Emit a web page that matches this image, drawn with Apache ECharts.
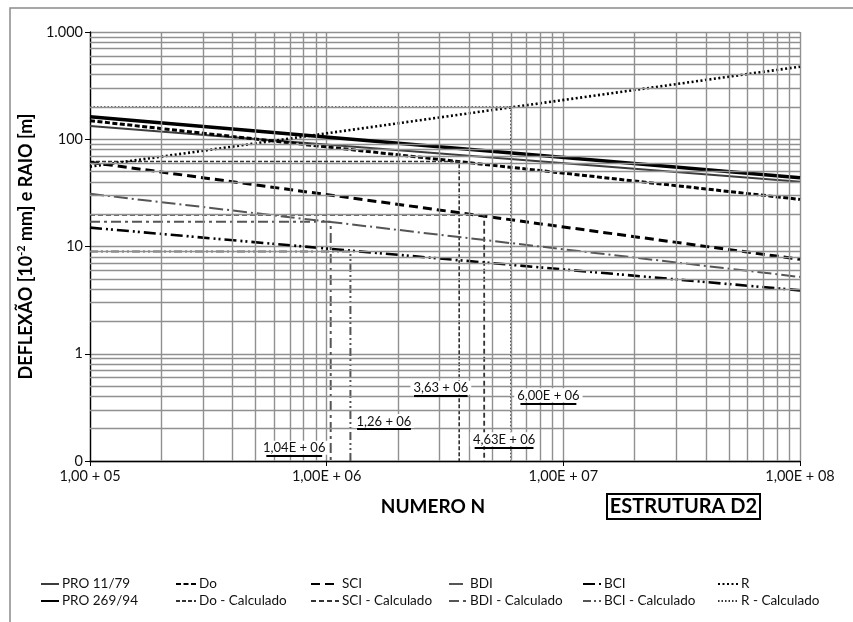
<!DOCTYPE html>
<html><head><meta charset="utf-8">
<script src="https://cdn.jsdelivr.net/npm/echarts@6.0.0/dist/echarts.min.js"></script>
<style>html,body{margin:0;padding:0;background:#fff}#c{width:853px;height:622px}</style>
</head><body><div id="c"></div>
<script>
// ---- data ----
const xEnds = [1e5, 1e8];
const pro1179 = [133, 40.2];
const pro26994 = [162, 43.8];
const doVals = [149, 27.5];
const sciVals = [61, 7.6];
const bdiVals = [31, 5.2];
const bciVals = [15, 3.9];
const rVals = [55.5, 475];
// Calculado: [N, value]
const doCalc = [3.63e6, 62];
const sciCalc = [4.63e6, 19.7];
const bdiCalc = [1.04e6, 17];
const bciCalc = [1.26e6, 9.0];
const rCalc = [6.0e6, 200];
const xTickLabels = ['1,00 + 05', '1,00E + 06', '1,00E + 07', '1,00E + 08'];
const yTickLabels = ['0', '1', '10', '100', '1.000'];
const annTexts = ['1,04E + 06', '1,26 + 06', '3,63 + 06', '4,63E + 06', '6,00E + 06'];

// ---- layout / style ----
const X_MIN = 1e5, X_MAX = 1e8, Y_MIN = 0.1, Y_MAX = 1000;
const FONT = 'Lato, "Open Sans", sans-serif';
const GRID_C = '#909090';
const annPos = [ // [x1, x2, y] underline segments in data space
  [5.56e5, 9.57e5, 0.112],
  [1.344e6, 2.27e6, 0.199],
  [2.34e6, 3.94e6, 0.406],
  [4.22e6, 7.48e6, 0.134],
  [6.59e6, 1.135e7, 0.345]
];

function diag(vals) { return xEnds.map((x, i) => [x, vals[i]]); }
function calc(c) { return [[X_MIN, c[1]], [c[0], c[1]], [c[0], Y_MIN]]; }
function ln(name, data, color, width, type, z) {
  return { name, type: 'line', data, showSymbol: false, symbol: 'none', silent: true, z: z || 3,
    lineStyle: { color, width, type, cap: 'butt' }, itemStyle: { color } };
}

// minor grid lines
const minorGrid = [];
for (let k = 5; k <= 7; k++) for (let m = 2; m <= 9; m++) minorGrid.push({ xAxis: m * Math.pow(10, k) });
for (let k = -1; k <= 2; k++) for (let m = 2; m <= 9; m++) minorGrid.push({ yAxis: +(m * Math.pow(10, k)).toPrecision(3) });

const series = [
  { name: '_grid', type: 'line', data: [[X_MIN, 1]], showSymbol: false, silent: true, z: 1,
    lineStyle: { opacity: 0 },
    markLine: { silent: true, symbol: ['none', 'none'], animation: false, label: { show: false },
      lineStyle: { color: GRID_C, width: 1.4, type: 'solid' }, data: minorGrid } },
  ln('PRO 11/79', diag(pro1179), '#3c3c3c', 2, 'solid'),
  ln('PRO 269/94', diag(pro26994), '#000', 3.5, 'solid', 4),
  ln('Do', diag(doVals), '#000', 3, [5, 2.5]),
  ln('Do - Calculado', calc(doCalc), '#333', 1.6, [4, 2]),
  ln('SCI', diag(sciVals), '#000', 3, [9, 5]),
  ln('SCI - Calculado', calc(sciCalc), '#333', 1.8, [5, 3]),
  ln('BDI', diag(bdiVals), '#555', 2, [14, 4, 2, 4]),
  ln('BDI - Calculado', calc(bdiCalc), '#555', 2, [10, 4, 3, 4]),
  ln('BCI', diag(bciVals), '#000', 2.6, [12, 4, 2, 3, 2, 4]),
  ln('BCI - Calculado', calc(bciCalc), '#555', 2, [8, 3, 2, 3, 2, 3]),
  ln('R', diag(rVals), '#000', 2.6, [2, 2.5]),
  ln('R - Calculado', calc(rCalc), '#333', 1.5, [1.5, 2]),
  { name: '_ann', type: 'line', data: [[X_MIN, 1]], showSymbol: false, silent: true, z: 10,
    lineStyle: { opacity: 0 },
    markLine: { silent: true, symbol: ['none', 'none'], animation: false, z: 10,
      lineStyle: { color: '#000', width: 1.8, type: 'solid' },
      label: { show: true, position: 'insideMiddleTop', distance: 1, color: '#111', fontSize: 13,
        fontFamily: FONT, backgroundColor: '#fff', padding: [1, 3, 0, 3] },
      data: annPos.map((p, i) => [
        { coord: [p[0], p[2]], label: { formatter: annTexts[i] } },
        { coord: [p[1], p[2]] }
      ]) } }
];

const legendCols = [
  ['PRO 11/79', 'PRO 269/94'],
  ['Do', 'Do - Calculado'],
  ['SCI', 'SCI - Calculado'],
  ['BDI', 'BDI - Calculado'],
  ['BCI', 'BCI - Calculado'],
  ['R', 'R - Calculado']
];
const legendLeft = [35, 170, 305, 443, 577, 712];
const legendIconW = [18, 20, 28, 18, 18, 20];

const option = {
  animation: false,
  backgroundColor: '#fff',
  textStyle: { fontFamily: FONT },
  grid: { left: 90, top: 32, width: 710, height: 429, containLabel: false },
  xAxis: {
    type: 'log', logBase: 10, min: X_MIN, max: X_MAX,
    name: 'NUMERO N', nameLocation: 'middle', nameGap: 36,
    nameTextStyle: { fontSize: 19, fontWeight: 'bold', color: '#000', fontFamily: FONT, padding: [0, 24, 0, 0] },
    axisLine: { show: true, lineStyle: { color: '#000', width: 1.3 } },
    axisTick: { show: true, length: 5, lineStyle: { color: '#000' } },
    axisLabel: { fontSize: 14.5, color: '#111', margin: 8, fontFamily: FONT,
      formatter: v => xTickLabels[Math.round(Math.log10(v)) - 5] },
    splitLine: { show: true, lineStyle: { color: GRID_C, width: 1.4 } }
  },
  yAxis: {
    type: 'log', logBase: 10, min: Y_MIN, max: Y_MAX,
    name: '{a|DEFLEXÃO [10}{s|-2}{a| mm] e RAIO [m]}', nameLocation: 'middle', nameGap: 50,
    nameRotate: 90,
    nameTextStyle: { rich: {
      a: { fontSize: 18, fontWeight: 'bold', color: '#000', fontFamily: FONT },
      s: { fontSize: 11, fontWeight: 'bold', color: '#000', fontFamily: FONT, padding: [0, 0, 9, 0] }
    } },
    axisLine: { show: true, lineStyle: { color: '#000', width: 1.3 } },
    axisTick: { show: true, length: 5, lineStyle: { color: '#000' } },
    axisLabel: { fontSize: 14.5, color: '#111', margin: 7, fontFamily: FONT,
      formatter: v => yTickLabels[Math.round(Math.log10(v)) + 1] },
    splitLine: { show: true, lineStyle: { color: GRID_C, width: 1.4 } }
  },
  legend: legendCols.map((names, i) => ({
    data: names, orient: 'vertical', left: legendLeft[i], top: 571,
    itemWidth: legendIconW[i], itemHeight: 10, itemGap: 1, selectedMode: false,
    itemStyle: { opacity: 0 },
    textStyle: { fontSize: 13.5, color: '#111', fontFamily: FONT, lineHeight: 16, padding: [0, 0, 0, -2] }
  })),
  graphic: [
    { type: 'rect', shape: { x: 10, y: 8, width: 1000, height: 1000 }, silent: true, z: -10,
      style: { fill: 'none', stroke: '#8a8a8a', lineWidth: 1.5 } },
    { type: 'rect', shape: { x: 607, y: 494, width: 153, height: 25 }, z: 20,
      style: { fill: '#fff', stroke: '#000', lineWidth: 2 } },
    { type: 'text', x: 683.5, y: 506.5, z: 21,
      style: { text: 'ESTRUTURA D2', fontSize: 20, fontWeight: 'bold', fill: '#000', fontFamily: FONT,
        align: 'center', verticalAlign: 'middle' } }
  ],
  series
};
const chart = echarts.init(document.getElementById('c'), null, { renderer: 'canvas' });
chart.setOption(option);
</script>
</body></html>
